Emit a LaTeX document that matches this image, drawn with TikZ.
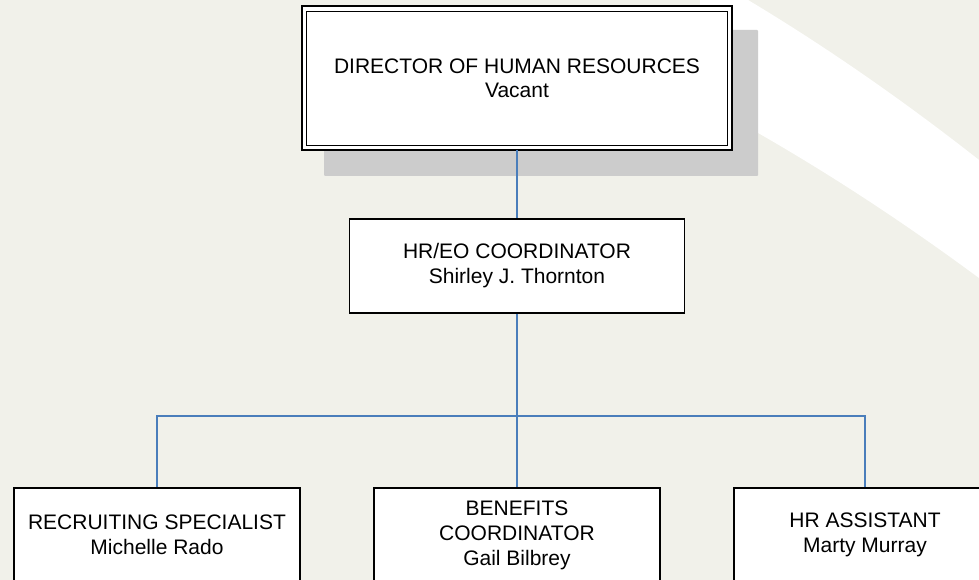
\documentclass[tikz,border=0pt]{standalone}
\usepackage{fontspec}
\setmainfont{Liberation Sans}
\definecolor{bgbeige}{RGB}{241,241,234}
\definecolor{shadowgrey}{RGB}{204,204,204}
\definecolor{linkblue}{RGB}{74,126,187}
\begin{document}
\begin{tikzpicture}[x=1pt,y=-1pt,
  every node/.style={font=\fontsize{21}{25}\selectfont, align=center, inner sep=0pt},
  orgbox/.style={rectangle, draw=black, line width=1.8pt, fill=white},
  headbox/.style={rectangle, draw=black, line width=2pt, fill=white, outer sep=0pt},
  innerrule/.style={draw=black, line width=1.3pt},
  link/.style={draw=linkblue, line width=1.4pt}]
\useasboundingbox (0,0) rectangle (979,580);
\clip (0,0) rectangle (979,580);
% page background
\fill[bgbeige] (0,0) rectangle (979,580);
% white swoosh band across the upper right
\fill[white] (700,-27.9) .. controls (800,28.2) and (900,96.4) .. (1000,176.6)
  -- (1000,293.7) .. controls (900,218.1) and (800,153.9) .. (700,101) -- cycle;
% drop shadow of the head box
\fill[shadowgrey, rounded corners=1pt] (324,30) rectangle (758,176);

% boxes
\node[headbox, minimum width=430pt, minimum height=143.5pt,
  font=\fontsize{21}{24}\selectfont] (dir) at (517,78.25)
  {DIRECTOR OF HUMAN RESOURCES\\Vacant};
% second, thinner frame inside the head box
\draw[innerrule] ([shift={(4.3,5)}]dir.north west)
  rectangle ([shift={(-4.3,-4.2)}]dir.south east);
\node[orgbox, minimum width=335pt, minimum height=94pt] (hreo) at (517,266)
  {HR/EO COORDINATOR\\Shirley J. Thornton};
\node[orgbox, minimum width=286pt, minimum height=94pt] (rec) at (157,535)
  {RECRUITING SPECIALIST\\Michelle Rado};
\node[orgbox, minimum width=286pt, minimum height=94pt] (ben) at (517,535)
  {BENEFITS\\COORDINATOR\\Gail Bilbrey};
\node[orgbox, minimum width=262pt, minimum height=94pt] (hra) at (865,535)
  {HR ASSISTANT\\Marty Murray};

% connectors
\coordinate (bus) at (517,416);
\draw[link] (dir.south) -- (hreo.north);
\draw[link] (hreo.south) -- (bus);
\draw[link] (rec.north) |- (bus) -| (hra.north);
\draw[link] (bus) -- (ben.north);
\end{tikzpicture}
\end{document}
